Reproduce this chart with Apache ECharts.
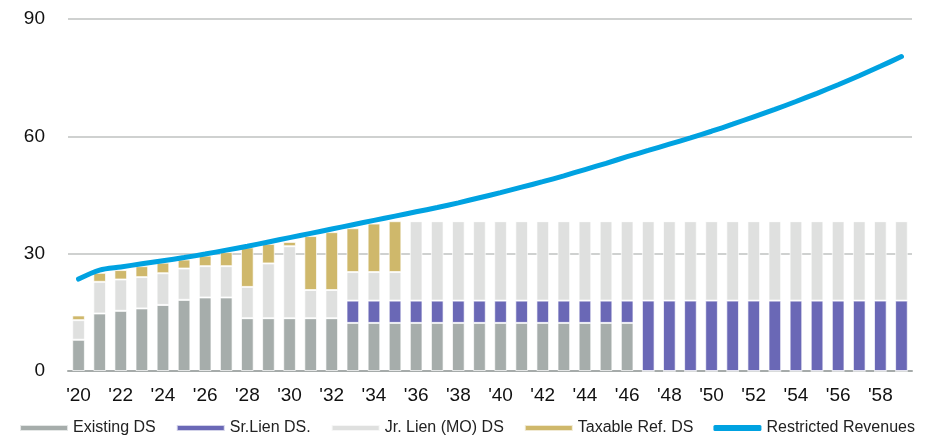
<!DOCTYPE html>
<html>
<head>
<meta charset="utf-8">
<script src="https://cdn.jsdelivr.net/npm/echarts@6/dist/echarts.min.js"></script>
<style>
  html, body { margin: 0; padding: 0; background: #fff; }
  #chart { width: 934px; height: 439px; }
</style>
</head>
<body>
<div id="chart"></div>
<script>
  // fiscal years '20 .. '59
  const years = [
    "'20", "'21", "'22", "'23", "'24", "'25", "'26", "'27", "'28", "'29",
    "'30", "'31", "'32", "'33", "'34", "'35", "'36", "'37", "'38", "'39",
    "'40", "'41", "'42", "'43", "'44", "'45", "'46", "'47", "'48", "'49",
    "'50", "'51", "'52", "'53", "'54", "'55", "'56", "'57", "'58", "'59",
  ];

  const existingDS = [
    8.0, 14.7, 15.4, 16.0, 16.9, 18.2, 18.8, 18.8, 13.5, 13.5,
    13.5, 13.5, 13.5, 12.3, 12.3, 12.3, 12.3, 12.3, 12.3, 12.3,
    12.3, 12.3, 12.3, 12.3, 12.3, 12.3, 12.3, 0, 0, 0,
    0, 0, 0, 0, 0, 0, 0, 0, 0, 0,
  ];

  const srLienDS = [
    0, 0, 0, 0, 0, 0, 0, 0, 0, 0,
    0, 0, 0, 5.7, 5.7, 5.7, 5.7, 5.7, 5.7, 5.7,
    5.7, 5.7, 5.7, 5.7, 5.7, 5.7, 5.7, 18.0, 18.0, 18.0,
    18.0, 18.0, 18.0, 18.0, 18.0, 18.0, 18.0, 18.0, 18.0, 18.0,
  ];

  const jrLienDS = [
    5.0, 8.1, 8.0, 8.0, 8.1, 8.0, 8.0, 8.0, 8.0, 14.0,
    18.4, 7.2, 7.2, 7.3, 7.3, 7.3, 20.3, 20.3, 20.3, 20.3,
    20.3, 20.3, 20.3, 20.3, 20.3, 20.3, 20.3, 20.3, 20.3, 20.3,
    20.3, 20.3, 20.3, 20.3, 20.3, 20.3, 20.3, 20.3, 20.3, 20.3,
  ];

  const taxableRefDS = [
    1.2, 2.3, 2.4, 2.8, 2.7, 2.3, 2.7, 3.6, 10.1, 5.0,
    1.1, 13.8, 14.8, 11.2, 12.4, 13.0, 0, 0, 0, 0,
    0, 0, 0, 0, 0, 0, 0, 0, 0, 0,
    0, 0, 0, 0, 0, 0, 0, 0, 0, 0,
  ];

  const restrictedRevenues = [
    23.5, 25.8, 26.6, 27.4, 28.2, 29.0, 29.9, 30.9, 31.9, 33.0,
    34.1, 35.2, 36.3, 37.4, 38.5, 39.6, 40.7, 41.8, 43.0, 44.3,
    45.6, 47.0, 48.4, 49.9, 51.5, 53.1, 54.8, 56.4, 58.0, 59.6,
    61.3, 63.1, 65.0, 66.9, 68.9, 71.0, 73.2, 75.5, 77.9, 80.4,
  ];

  const yTicks = [0, 30, 60, 90];

  const bar = (name, data, color) => ({
    name,
    type: 'bar',
    stack: 'ds',
    barWidth: '60%',
    data,
    itemStyle: {
      color,
      borderColor: 'rgba(255,255,255,0.7)',
      borderWidth: 1,
    },
    emphasis: { disabled: true },
  });

  const chart = echarts.init(document.getElementById('chart'));

  chart.setOption({
    animation: false,
    textStyle: { fontFamily: 'Liberation Sans, Arial, sans-serif' },
    grid: {
      top: 19,
      left: 68,
      right: 22,
      bottom: 68,
    },
    legend: {
      bottom: -2,
      left: 'center',
      itemGap: 20,
      itemWidth: 48,
      itemHeight: 6,
      textStyle: { fontSize: 16, color: '#222' },
      data: [
        { name: 'Existing DS', icon: 'rect' },
        { name: 'Sr.Lien DS.', icon: 'rect' },
        { name: 'Jr. Lien (MO) DS', icon: 'rect' },
        { name: 'Taxable Ref. DS', icon: 'rect' },
        { name: 'Restricted Revenues', icon: 'roundRect' },
      ],
    },
    xAxis: {
      type: 'category',
      data: years,
      axisLine: { lineStyle: { color: '#a6abaa', width: 2 } },
      axisTick: { show: false },
      axisLabel: {
        interval: 1,
        fontSize: 19,
        color: '#111',
        margin: 15,
      },
    },
    yAxis: {
      type: 'value',
      min: yTicks[0],
      max: yTicks[yTicks.length - 1],
      interval: 30,
      axisLine: { show: false },
      axisTick: { show: false },
      axisLabel: { fontSize: 19, color: '#111', margin: 23 },
      splitLine: { lineStyle: { color: '#bfc2c1', width: 1.5 } },
    },
    series: [
      bar('Existing DS', existingDS, '#a6adab'),
      bar('Sr.Lien DS.', srLienDS, '#6a68b6'),
      bar('Jr. Lien (MO) DS', jrLienDS, '#dfe0df'),
      bar('Taxable Ref. DS', taxableRefDS, '#cfb86b'),
      {
        name: 'Restricted Revenues',
        type: 'line',
        data: restrictedRevenues,
        smooth: 0.3,
        symbol: 'none',
        lineStyle: { color: '#00a2e1', width: 5, cap: 'round' },
        itemStyle: { color: '#00a2e1' },
        emphasis: { disabled: true },
        z: 5,
      },
    ],
  });
</script>
</body>
</html>
